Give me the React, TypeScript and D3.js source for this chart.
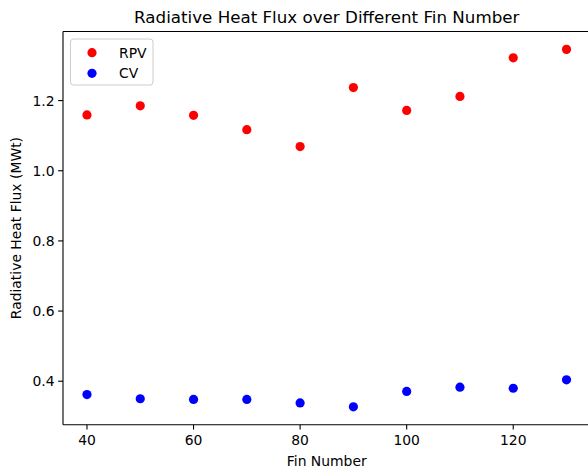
import React from "react";
import * as d3 from "d3";

const finNumbers = [40, 50, 60, 70, 80, 90, 100, 110, 120, 130];
const rpvValues = [1.159, 1.185, 1.158, 1.117, 1.069, 1.237, 1.172, 1.212, 1.322, 1.346];
const cvValues = [0.362, 0.350, 0.348, 0.348, 0.338, 0.327, 0.371, 0.383, 0.380, 0.404];
const xTicks = [40, 60, 80, 100, 120];
const yTicks = [0.4, 0.6, 0.8, 1.0, 1.2];
const seriesNames = ["RPV", "CV"];
const seriesColors = ["#ff0000", "#0000ff"];

const W = 588;
const H = 473;
const FONT = "DejaVu Sans, sans-serif";

export default function App() {
  const left = 63, right = 590.5, top = 31.5, bottom = 424.7;
  const xMin = d3.min(finNumbers)!, xMax = d3.max(finNumbers)!;
  const xPad = (xMax - xMin) * 0.05;
  const allY = [...rpvValues, ...cvValues];
  const yMin = d3.min(allY)!, yMax = d3.max(allY)!;
  const yPad = (yMax - yMin) * 0.05;
  const x = d3.scaleLinear().domain([xMin - xPad, xMax + xPad]).range([left, right]);
  const y = d3.scaleLinear().domain([yMin - yPad, yMax + yPad]).range([bottom, top]);
  const series = [rpvValues, cvValues];
  const r = 4.6;

  return (
    <svg width={W} height={H} style={{ position: "absolute", left: 0, top: 0, background: "#fff" }} fontFamily={FONT}>
      <rect x={0} y={0} width={W} height={H} fill="#fff" />
      <text x={(left + right) / 2} y={23} textAnchor="middle" fontSize={16.7} fill="#000">
        Radiative Heat Flux over Different Fin Number
      </text>
      {series.map((vals, si) =>
        vals.map((v, i) => (
          <circle key={`${si}-${i}`} cx={x(finNumbers[i])} cy={y(v)} r={r} fill={seriesColors[si]} />
        ))
      )}
      {/* spines */}
      <line x1={left} x2={left} y1={top} y2={bottom} stroke="#000" strokeWidth={1.1} />
      <line x1={left} x2={right} y1={bottom} y2={bottom} stroke="#000" strokeWidth={1.1} />
      <line x1={left} x2={right} y1={top} y2={top} stroke="#000" strokeWidth={1.1} />
      <line x1={right} x2={right} y1={top} y2={bottom} stroke="#000" strokeWidth={1.1} />
      {xTicks.map((t) => (
        <g key={`x${t}`}>
          <line x1={x(t)} x2={x(t)} y1={bottom} y2={bottom + 4.9} stroke="#000" strokeWidth={1.1} />
          <text x={x(t)} y={bottom + 20.5} textAnchor="middle" fontSize={13.9} fill="#000">
            {t}
          </text>
        </g>
      ))}
      {yTicks.map((t) => (
        <g key={`y${t}`}>
          <line x1={left - 4.9} x2={left} y1={y(t)} y2={y(t)} stroke="#000" strokeWidth={1.1} />
          <text x={left - 8.5} y={y(t) + 5} textAnchor="end" fontSize={13.9} fill="#000">
            {t.toFixed(1)}
          </text>
        </g>
      ))}
      <text x={(left + right) / 2} y={466} textAnchor="middle" fontSize={13.9} fill="#000">
        Fin Number
      </text>
      <text
        transform={`translate(21, ${(top + bottom) / 2}) rotate(-90)`}
        textAnchor="middle"
        fontSize={13.9}
        fill="#000"
      >
        Radiative Heat Flux (MWt)
      </text>
      {/* legend */}
      <rect x={70.5} y={39} width={82.5} height={46} rx={3} fill="#fff" fillOpacity={0.8} stroke="#cccccc" strokeWidth={1} />
      {seriesNames.map((n, i) => (
        <g key={n}>
          <circle cx={92} cy={52.7 + i * 20.6} r={r} fill={seriesColors[i]} />
          <text x={119} y={52.7 + i * 20.6 + 5} fontSize={13.9} fill="#000">
            {n}
          </text>
        </g>
      ))}
    </svg>
  );
}
